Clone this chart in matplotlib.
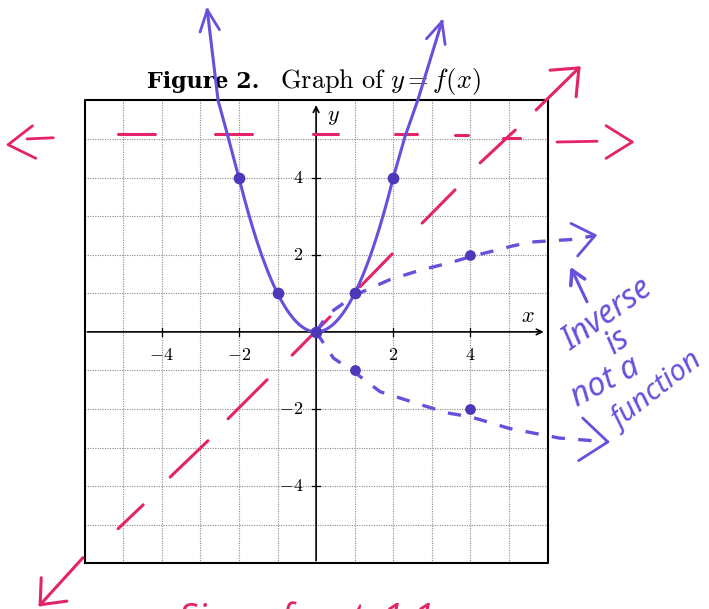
import numpy as np
import matplotlib.pyplot as plt

plt.rcParams['mathtext.fontset'] = 'cm'

PURPLE = '#6a4fdc'
DOT = '#4c38b8'
PINK = '#e3236a'

# printed grid
grid_lo, grid_hi = -6, 6
tick_vals = [-4, -2, 2, 4]

# marked points of f
pts_x = [-2, -1, 0, 1, 2]
pts_y = [4, 1, 0, 1, 4]
# hand-drawn branches above the marked points
left_tail_x = [-2.0, -2.31, -2.54, -2.82]
left_tail_y = [4.0, 5.16, 6.0, 8.34]
right_tail_x = [2.0, 2.30, 2.64, 3.26]
right_tail_y = [4.0, 5.05, 6.02, 8.04]

# inverse relation, drawn dashed
inv_up_x = [0.0, 0.3, 1.0, 1.9, 2.7, 3.5, 4.0, 4.6, 5.1, 5.6, 6.7, 7.23]
inv_up_y = [0.0, 0.45, 0.95, 1.35, 1.6, 1.8, 1.95, 2.1, 2.23, 2.33, 2.4, 2.5]
inv_dn_x = [0.0, 0.45, 1.0, 1.66, 2.6, 3.4, 4.0, 5.0, 6.3, 7.56]
inv_dn_y = [0.0, -0.68, -1.05, -1.55, -1.85, -2.1, -2.2, -2.5, -2.75, -2.85]
inv_pts_x = [1, 4, 1, 4]
inv_pts_y = [1, 2, -1, -2]

# y = x sketched in dashes
diag_x0 = [-5.13, -3.78, -2.28, -0.62, 1.14, 2.75, 4.25, 5.70]
diag_y0 = [-5.10, -3.76, -2.25, -0.60, 1.17, 2.82, 4.38, 5.75]
diag_x1 = [-4.48, -2.80, -1.27, 0.36, 1.97, 3.60, 5.16, 6.81]
diag_y1 = [-4.48, -2.82, -1.24, 0.39, 2.02, 3.68, 5.23, 6.84]

# horizontal line test at y = 5
hz_x0 = [-5.13, -2.62, -0.08, 2.05, 3.60, 4.84]
hz_x1 = [-4.17, -1.66, 0.57, 2.62, 3.94, 5.28]
hz_y = [5.14, 5.14, 5.14, 5.12, 5.10, 5.02]


def f(x):
    return x ** 2


def barbs(ax, tip, prev, color, length=0.55, spread=30, lw=2.0):
    tip = np.asarray(tip, float)
    d = tip - np.asarray(prev, float)
    d /= np.hypot(*d)
    for s in (spread, -spread):
        a = np.radians(s)
        r = np.array([d[0] * np.cos(a) - d[1] * np.sin(a),
                      d[0] * np.sin(a) + d[1] * np.cos(a)])
        end = tip - length * r
        ax.plot([tip[0], end[0]], [tip[1], end[1]], color=color, lw=lw,
                solid_capstyle='round')


fig = plt.figure(figsize=(7.09, 6.09), dpi=100)
ax = fig.add_axes([0, 0, 1, 1])
ax.set_xlim(-8.19, 10.18)
ax.set_ylim(-7.18, 8.60)
ax.axis('off')

# dotted grid and frame
for v in range(grid_lo + 1, grid_hi):
    if v == 0:
        continue
    ax.plot([v, v], [grid_lo, grid_hi], color='#8a8a8a', lw=0.8,
            ls=(0, (1, 1.2)), zorder=1)
    ax.plot([grid_lo, grid_hi], [v, v], color='#8a8a8a', lw=0.8,
            ls=(0, (1, 1.2)), zorder=1)
ax.plot([grid_lo, grid_hi, grid_hi, grid_lo, grid_lo],
        [grid_lo, grid_lo, grid_hi, grid_hi, grid_lo], color='black', lw=1.5, zorder=2)

# coordinate axes
ax.annotate('', xy=(5.97, 0), xytext=(grid_lo, 0),
            arrowprops=dict(arrowstyle='->', color='black', lw=1.2), zorder=2)
ax.annotate('', xy=(0, 5.95), xytext=(0, grid_lo),
            arrowprops=dict(arrowstyle='->', color='black', lw=1.2), zorder=2)
for t in tick_vals:
    ax.plot([t, t], [-0.1, 0.1], color='black', lw=0.9)
    ax.plot([-0.1, 0.1], [t, t], color='black', lw=0.9)
    lab = r'$%d$' % t if t > 0 else r'$-%d$' % -t
    ax.text(t, -0.6, lab, ha='center', va='center', fontsize=13)
    ax.text(-0.33, t, lab, ha='right', va='center', fontsize=13)
ax.text(5.49, 0.41, r'$x$', ha='center', va='center', fontsize=16)
ax.text(0.45, 5.57, r'$y$', ha='center', va='center', fontsize=16)

# caption above the grid
ax.text(-4.39, 6.32, 'Figure 2.', family='DejaVu Serif', weight='bold',
        ha='left', va='baseline', fontsize=16)
ax.text(-0.93, 6.32, r'$\mathrm{Graph\ of}\ y = f(x)$',
        ha='left', va='baseline', fontsize=19)

# pink: y = x and the horizontal line test
for x0, y0, x1, y1 in zip(diag_x0, diag_y0, diag_x1, diag_y1):
    ax.plot([x0, x1], [y0, y1], color=PINK, lw=2.2, solid_capstyle='round', zorder=3)
barbs(ax, (diag_x1[-1], diag_y1[-1]), (diag_x0[-1], diag_y0[-1]), PINK, length=0.75, spread=40, lw=2.2)
ax.plot([-6.04, -7.15], [-5.85, -7.07], color=PINK, lw=2.2, solid_capstyle='round')
barbs(ax, (-7.15, -7.07), (-6.04, -5.85), PINK, length=0.7, spread=40, lw=2.2)

for x0, x1, y in zip(hz_x0, hz_x1, hz_y):
    ax.plot([x0, x1], [y, y], color=PINK, lw=2.2, solid_capstyle='round', zorder=3)
ax.plot([-6.81, -7.49], [5.03, 5.0], color=PINK, lw=2.0, solid_capstyle='round')
barbs(ax, (-7.98, 4.85), (-7.0, 4.95), PINK, length=0.8, spread=32, lw=2.0)
ax.plot([6.24, 7.28], [4.92, 4.94], color=PINK, lw=2.0, solid_capstyle='round')
barbs(ax, (8.19, 4.92), (7.0, 4.92), PINK, length=0.8, spread=32, lw=2.0)

# purple: f(x) = x^2
core = np.linspace(-2, 2, 200)
curve_x = np.concatenate([left_tail_x[::-1], core, right_tail_x])
curve_y = np.concatenate([left_tail_y[::-1], f(core), right_tail_y])
ax.plot(curve_x, curve_y, color=PURPLE, lw=2.2, zorder=4)
barbs(ax, (left_tail_x[-1], left_tail_y[-1]), (left_tail_x[-2], left_tail_y[-2]), PURPLE, length=0.6, spread=25)
barbs(ax, (right_tail_x[-1], right_tail_y[-1]), (right_tail_x[-2], right_tail_y[-2]), PURPLE, length=0.6, spread=25)
ax.scatter(pts_x, pts_y, s=55, color=DOT, zorder=5)

# purple: the inverse relation
ax.plot(inv_up_x, inv_up_y, color=PURPLE, lw=2.4, ls=(0, (4, 4)), zorder=4)
barbs(ax, (inv_up_x[-1], inv_up_y[-1]), (6.5, 2.35), PURPLE, length=0.7, spread=38)
ax.plot(inv_dn_x, inv_dn_y, color=PURPLE, lw=2.4, ls=(0, (4, 4)), zorder=4)
barbs(ax, (inv_dn_x[-1], inv_dn_y[-1]), (6.5, -2.75), PURPLE, length=0.9, spread=38)
ax.scatter(inv_pts_x, inv_pts_y, s=45, color=DOT, zorder=5)

ax.plot([7.02, 6.63], [0.78, 1.6], color=PURPLE, lw=2.2, solid_capstyle='round')
barbs(ax, (6.63, 1.6), (7.02, 0.78), PURPLE, length=0.4, spread=30, lw=2.6)

hand = dict(color=PURPLE, family='Noto Sans', style='italic',
            ha='center', va='center')
ax.text(7.55, 0.45, 'Inverse', rotation=35, fontsize=23, **hand)
ax.text(7.80, -0.25, 'is', rotation=35, fontsize=23, **hand)
ax.text(7.50, -1.30, 'not a', rotation=28, fontsize=23, **hand)
ax.text(8.85, -1.55, 'function', rotation=38, fontsize=21, **hand)

# note along the bottom, mostly below the page edge
ax.text(-3.55, -6.98, 'Since  f  not  1-1', color=PINK, fontsize=26,
        family='Noto Sans', style='italic', ha='left', va='top', clip_on=False)

fig.savefig('out.png', dpi=100)
